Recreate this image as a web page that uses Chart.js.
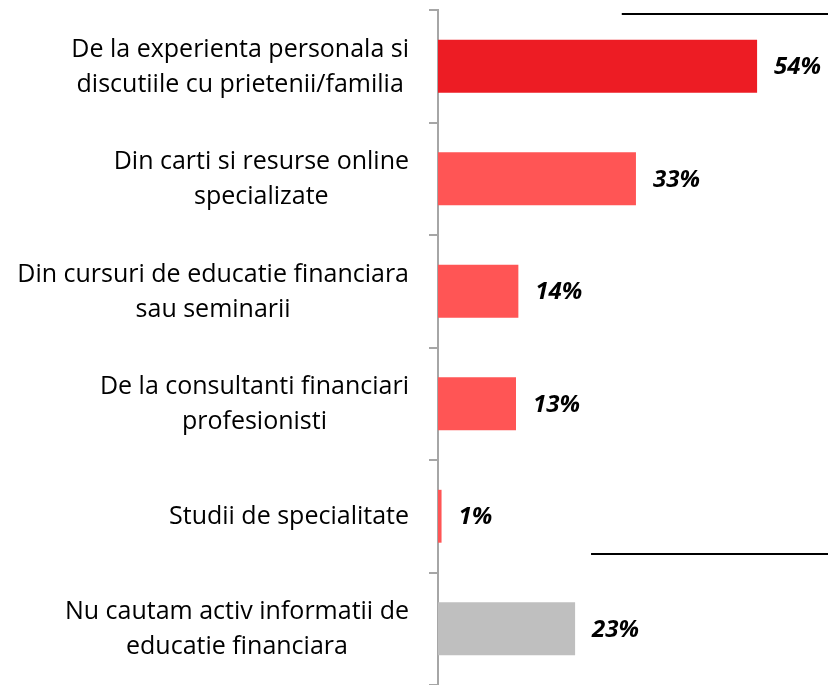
<!DOCTYPE html>
<html lang="ro">
<head>
  <meta charset="utf-8">
  <title>Surse de educatie financiara</title>
  <style>
    html, body { margin: 0; padding: 0; background: #fff; }
    canvas { display: block; }
  </style>
</head>
<body>
  <canvas id="chart" width="828" height="685"></canvas>
  <script src="https://cdn.jsdelivr.net/npm/chart.js@4.4.1/dist/chart.umd.min.js"></script>
  <script>
    // categorii (fiecare rand = o linie din eticheta)
    const categories = [
      ['De la experienta personala si', 'discutiile cu prietenii/familia'],
      ['Din carti si resurse online', 'specializate'],
      ['Din cursuri de educatie financiara', 'sau seminarii'],
      ['De la consultanti financiari', 'profesionisti'],
      ['Studii de specialitate'],
      ['Nu cautam activ informatii de', 'educatie financiara']
    ];
    const values = [54, 33.5, 13.6, 13.2, 0.6, 23.2];
    const valueLabels = ['54%', '33%', '14%', '13%', '1%', '23%'];
    const barColors = ['#ED1C24', '#FF5555', '#FF5555', '#FF5555', '#FF5555', '#BFBFBF'];
    // linii decorative: [inceput pe axa x (%), pozitie pe axa categoriilor]
    const separators = [[31.1, -0.46], [25.9, 4.335]];

    const labelFont = '25px "Open Sans"';
    const valueFont = 'italic bold 24px "Open Sans"';
    const gray = '#A6A6A6';

    const wrappedLabels = {
      id: 'wrappedLabels',
      afterDraw(chart) {
        const ctx = chart.ctx;
        const yScale = chart.scales.y;
        const right = yScale.right - 9 - 20;
        const lineH = 35;
        ctx.save();
        ctx.font = labelFont;
        ctx.fillStyle = '#000';
        ctx.textAlign = 'center';
        ctx.textBaseline = 'middle';
        categories.forEach((lines, i) => {
          const w = Math.max(...lines.map(l => ctx.measureText(l).width));
          const cx = right - w / 2;
          const cy = yScale.getPixelForValue(i) + 1;
          lines.forEach((l, j) => {
            ctx.fillText(l, cx, cy + (j - (lines.length - 1) / 2) * lineH);
          });
        });
        ctx.restore();
      }
    };

    const barValues = {
      id: 'barValues',
      afterDatasetsDraw(chart) {
        const ctx = chart.ctx;
        const meta = chart.getDatasetMeta(0);
        ctx.save();
        ctx.font = valueFont;
        ctx.fillStyle = '#000';
        ctx.textAlign = 'left';
        ctx.textBaseline = 'middle';
        meta.data.forEach((bar, i) => {
          ctx.fillText(valueLabels[i], bar.x + 17, bar.y + 1);
        });
        ctx.restore();
      }
    };

    const separatorLines = {
      id: 'separatorLines',
      afterDraw(chart) {
        const ctx = chart.ctx;
        const x = chart.scales.x;
        const y = chart.scales.y;
        ctx.save();
        ctx.strokeStyle = '#000';
        ctx.lineWidth = 2;
        separators.forEach(([xv, yv]) => {
          const py = Math.round(y.getPixelForValue(yv));
          ctx.beginPath();
          ctx.moveTo(x.getPixelForValue(xv), py);
          ctx.lineTo(chart.width, py);
          ctx.stroke();
        });
        ctx.restore();
      }
    };

    new Chart(document.getElementById('chart'), {
      type: 'bar',
      data: {
        labels: categories,
        datasets: [{
          data: values,
          backgroundColor: barColors,
          borderWidth: 0,
          categoryPercentage: 1,
          barPercentage: 0.47
        }]
      },
      options: {
        indexAxis: 'y',
        responsive: false,
        animation: false,
        layout: { padding: { top: 10, bottom: 0, left: 0, right: 0 } },
        plugins: {
          legend: { display: false },
          tooltip: { enabled: false }
        },
        scales: {
          x: {
            display: false,
            min: 0,
            max: 66
          },
          y: {
            afterFit(scale) { scale.width = 438; },
            grid: {
              drawOnChartArea: false,
              drawTicks: true,
              tickLength: 9,
              color: gray,
              lineWidth: 2,
              offset: true
            },
            border: { display: true, color: gray, width: 2 },
            ticks: { display: false }
          }
        }
      },
      plugins: [wrappedLabels, barValues, separatorLines]
    });
  </script>
</body>
</html>
